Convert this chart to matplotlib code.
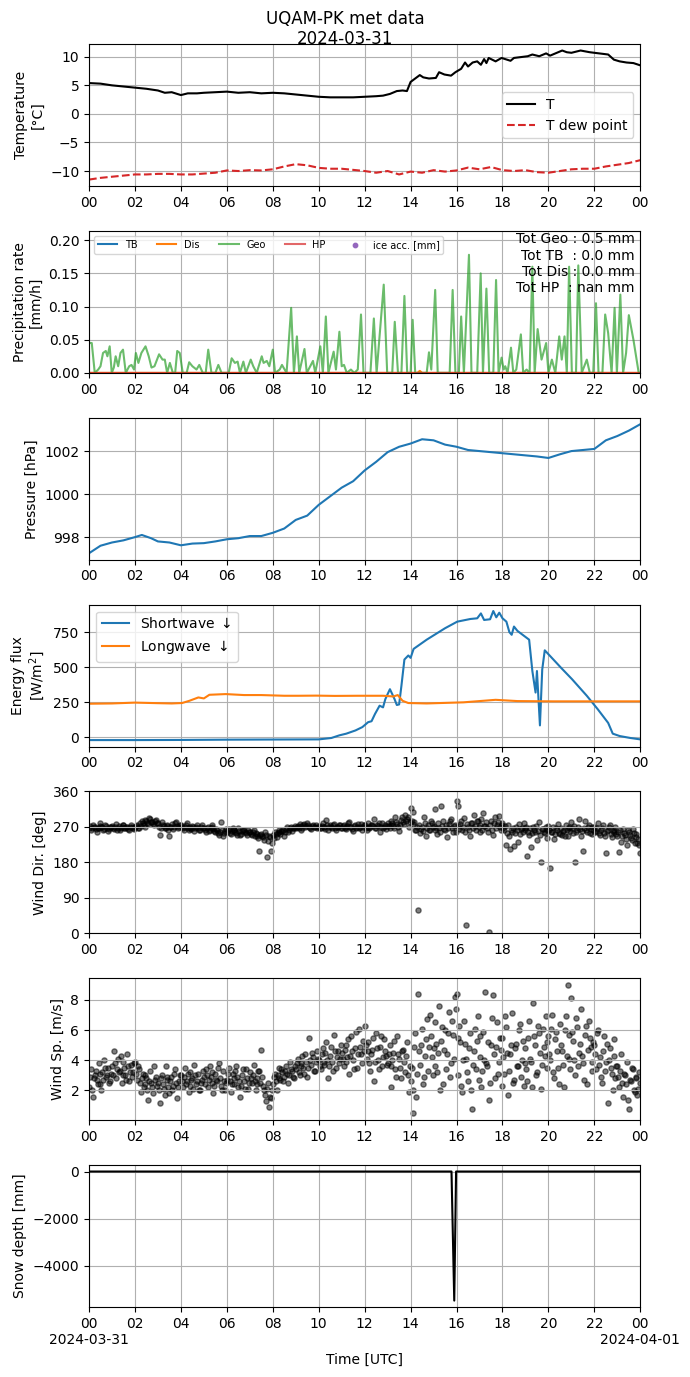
import matplotlib
matplotlib.use("Agg")
import numpy as np
import pandas as pd
import matplotlib.pyplot as plt
import matplotlib.dates as mdates
from matplotlib.ticker import FuncFormatter

# ---------------- data ----------------
DAY = "2024-03-31"
TITLE = "UQAM-PK met data\n2024-03-31"

t_hours = [0, 0.5, 1, 1.5, 2, 2.5, 3, 3.3, 3.6, 4, 4.3, 4.7, 5, 5.5, 6, 6.5, 7, 7.5, 8, 8.5,
           9, 9.5, 10, 10.5, 11, 11.5, 12, 12.5, 12.8, 13.1, 13.4, 13.65, 13.84, 14.0, 14.4,
           14.55, 14.8, 15.1, 15.24, 15.47, 15.76, 15.95, 16.2, 16.37, 16.5, 16.7, 16.9, 17.06,
           17.2, 17.3, 17.4, 17.7, 17.96, 18.35, 18.5, 19.1, 19.3, 19.6, 19.9, 20.07, 20.6,
           20.8, 21.0, 21.4, 21.8, 22.2, 22.6, 22.85, 23.1, 23.4, 23.7, 24]
t_vals = [5.4, 5.3, 5.0, 4.8, 4.6, 4.4, 4.1, 3.7, 3.8, 3.3, 3.6, 3.6, 3.7, 3.8, 3.9, 3.7, 3.8,
          3.6, 3.7, 3.6, 3.4, 3.2, 3.0, 2.9, 2.9, 2.9, 3.0, 3.1, 3.2, 3.5, 4.0, 4.1, 4.0, 5.6,
          6.8, 6.4, 6.2, 6.3, 7.3, 6.9, 6.7, 7.3, 7.9, 9.0, 8.3, 9.0, 9.2, 8.6, 9.6, 8.9, 9.8,
          9.2, 9.8, 9.3, 9.8, 10.1, 10.4, 10.1, 10.6, 10.2, 11.1, 10.8, 10.7, 11.1, 10.8, 10.6,
          10.4, 9.5, 9.2, 9.0, 8.9, 8.5]

td_hours = [0, 0.5, 1, 1.5, 2, 2.5, 3, 3.5, 4, 4.5, 5, 5.5, 6, 6.5, 7, 7.5, 8, 8.5, 9, 9.5,
            10, 10.5, 11, 11.5, 12, 12.5, 13, 13.5, 14, 14.5, 15, 15.5, 16, 16.5, 17, 17.5,
            18, 18.5, 19, 19.5, 20, 20.5, 21, 21.5, 22, 22.5, 23, 23.5, 24]
td_vals = [-11.5, -11.2, -11.0, -10.8, -10.6, -10.6, -10.5, -10.5, -10.6, -10.6, -10.45,
           -10.3, -9.9, -10.0, -9.85, -9.9, -9.7, -9.2, -8.8, -9.0, -9.45, -9.6, -9.6, -9.8,
           -10.0, -10.3, -10.0, -10.6, -10.1, -10.3, -9.85, -10.1, -9.9, -9.4, -9.7, -9.3,
           -9.85, -10.0, -9.85, -10.2, -10.3, -10.0, -9.7, -9.6, -9.6, -9.2, -8.9, -8.6, -8.1]

geo_hours = [0.0, 0.12, 0.25, 0.4, 0.5, 0.61, 0.73, 0.8, 0.9, 0.99, 1.08, 1.16, 1.27, 1.37,
             1.48, 1.6, 1.75, 1.85, 1.96, 2.04, 2.15, 2.28, 2.46, 2.6, 2.72, 2.85, 3.05, 3.2,
             3.3, 3.4, 3.52, 3.65, 3.75, 3.84, 3.95, 4.08, 4.25, 4.36, 4.5, 4.68, 4.8, 4.95,
             5.08, 5.19, 5.33, 5.5, 5.63, 5.77, 6.08, 6.21, 6.35, 6.47, 6.57, 6.72, 6.83, 7.04,
             7.15, 7.3, 7.52, 7.6, 7.74, 7.85, 8.0, 8.1, 8.3, 8.4, 8.6, 8.8, 8.92, 9.05, 9.15,
             9.38, 9.48, 9.75, 9.85, 10.07, 10.18, 10.31, 10.42, 10.65, 10.75, 10.9, 11.0, 11.1,
             11.22, 11.4, 11.55, 11.7, 11.84, 11.95, 12.25, 12.4, 12.52, 12.83, 12.98, 13.2,
             13.31, 13.45, 13.6, 13.73, 13.85, 14.0, 14.09, 14.2, 14.7, 14.8, 14.9, 15.07, 15.18,
             15.7, 15.83, 15.95, 16.1, 16.2, 16.32, 16.54, 16.65, 16.9, 17.05, 17.15, 17.3,
             17.42, 17.6, 17.72, 17.83, 17.96, 18.05, 18.12, 18.22, 18.37, 18.47, 18.6, 18.8,
             18.9, 19.05, 19.18, 19.3, 19.4, 19.53, 19.7, 19.9, 20.0, 20.15, 20.3, 20.47, 20.58,
             20.7, 20.8, 20.9, 21.02, 21.2, 21.3, 21.45, 21.67, 21.8, 21.95, 22.07, 22.18, 22.35,
             22.47, 22.6, 22.75, 22.88, 22.98, 23.13, 23.25, 23.38, 23.5, 23.7, 23.93, 24.0]
geo_vals = [0.045, 0.045, 0.0, 0.005, 0.01, 0.03, 0.033, 0.025, 0.04, 0.0, 0.008, 0.025, 0.01,
            0.03, 0.035, 0.0, 0.01, 0.012, 0.005, 0.03, 0.015, 0.03, 0.04, 0.025, 0.008, 0.01,
            0.028, 0.02, 0.02, 0.0, 0.015, 0.0, 0.0, 0.033, 0.03, 0.0, 0.0, 0.016, 0.01, 0.005,
            0.012, 0.0, 0.0, 0.035, 0.0, 0.0, 0.012, 0.0, 0.0, 0.022, 0.015, 0.017, 0.0, 0.017,
            0.0, 0.02, 0.01, 0.0, 0.025, 0.015, 0.018, 0.01, 0.035, 0.0, 0.005, 0.012, 0.0,
            0.098, 0.0, 0.055, 0.0, 0.036, 0.0, 0.018, 0.0, 0.04, 0.0, 0.085, 0.0, 0.032, 0.005,
            0.062, 0.01, 0.012, 0.0, 0.005, 0.0, 0.005, 0.088, 0.0, 0.0, 0.082, 0.0, 0.133, 0.0,
            0.0, 0.077, 0.0, 0.0, 0.116, 0.0, 0.0, 0.08, 0.0, 0.0, 0.031, 0.005, 0.125, 0.0, 0.0,
            0.125, 0.0, 0.0, 0.085, 0.0, 0.178, 0.0, 0.0, 0.15, 0.0, 0.127, 0.0, 0.0, 0.14, 0.0,
            0.023, 0.005, 0.01, 0.0, 0.038, 0.0, 0.005, 0.058, 0.0, 0.005, 0.0, 0.16, 0.0, 0.066,
            0.02, 0.045, 0.0, 0.02, 0.0, 0.055, 0.02, 0.055, 0.0, 0.16, 0.0, 0.0, 0.162, 0.0,
            0.02, 0.0, 0.0, 0.105, 0.0, 0.0, 0.088, 0.06, 0.0, 0.098, 0.0, 0.118, 0.0, 0.03,
            0.087, 0.05, 0.0, 0.0]
tb_hours = [0, 24]
tb_vals = [0.0, 0.0]
dis_hours = [0, 14.3, 14.4, 14.5, 24]
dis_vals = [0.0, 0.0, 0.003, 0.0, 0.0]
hp_hours = [0, 24]
hp_vals = [0.0, 0.0]
totals_text = "Tot Geo : 0.5 mm\nTot TB  : 0.0 mm\nTot Dis : 0.0 mm\nTot HP  : nan mm"

p_hours = [0, 0.5, 1, 1.5, 2, 2.3, 2.7, 3, 3.5, 4, 4.5, 5, 5.5, 6, 6.5, 7, 7.5, 8, 8.5, 9,
           9.5, 10, 10.5, 11, 11.5, 12, 12.5, 13, 13.5, 14, 14.5, 15, 15.5, 16, 16.5, 17, 17.5,
           18, 18.5, 19, 19.5, 20, 20.5, 21, 21.5, 22, 22.5, 23, 23.5, 24]
p_vals = [997.25, 997.6, 997.75, 997.85, 998.0, 998.1, 997.95, 997.8, 997.75, 997.62, 997.7,
          997.72, 997.8, 997.9, 997.95, 998.05, 998.05, 998.2, 998.4, 998.8, 999.0, 999.5,
          999.9, 1000.3, 1000.6, 1001.1, 1001.5, 1001.95, 1002.2, 1002.35, 1002.55, 1002.5,
          1002.3, 1002.2, 1002.05, 1002.0, 1001.95, 1001.9, 1001.85, 1001.8, 1001.75, 1001.68,
          1001.85, 1002.0, 1002.05, 1002.1, 1002.5, 1002.7, 1002.95, 1003.25]

sw_hours = [0, 2, 4, 6, 8, 10, 10.55, 10.9, 11.2, 11.6, 11.9, 12.15, 12.3, 12.45, 12.65, 12.8,
            12.9, 13.0, 13.1, 13.2, 13.3, 13.4, 13.5, 13.6, 13.73, 13.9, 14.0, 14.13, 14.7,
            15.5, 16.03, 16.6, 16.9, 17.06, 17.2, 17.46, 17.6, 17.73, 17.86, 18.0, 18.17, 18.3,
            18.4, 18.5, 18.65, 19.16, 19.3, 19.44, 19.5, 19.63, 19.73, 19.84, 20.08, 20.55,
            21.03, 21.67, 22.14, 22.6, 22.8, 23.1, 23.57, 24]
sw_vals = [-22, -22, -21, -19, -18, -17, -7, 12, 24, 47, 71, 106, 113, 165, 224, 212, 271, 307,
           342, 307, 271, 229, 233, 366, 554, 583, 566, 630, 696, 778, 825, 844, 849, 884, 837,
           842, 901, 856, 889, 849, 825, 750, 731, 790, 759, 696, 472, 318, 472, 83, 483, 620,
           578, 495, 413, 295, 200, 101, 24, 7, -7, -17]
lw_hours = [0, 1, 2, 3, 3.6, 4.05, 4.37, 4.76, 5.0, 5.24, 5.95, 6.75, 7.5, 8.5, 9.1, 9.9,
            10.7, 11.7, 12.8, 13.25, 13.44, 13.65, 13.9, 14.7, 16.3, 17.7, 18.65, 20.2, 24]
lw_vals = [238, 240, 246, 242, 240, 243, 259, 283, 276, 302, 307, 300, 300, 295, 295, 296, 294,
           295, 295, 290, 300, 259, 243, 240, 248, 266, 257, 255, 255]

# wind direction [deg], one row per hour (evenly spaced within the hour), plus 00 UTC next day
wd_rows = [
    [268, 272, 262, 266, 275, 270, 271, 264, 258, 268, 266, 273, 279, 270, 270, 262, 264, 274, 273, 268, 260, 265, 269, 271],
    [272, 268, 265, 270, 277, 263, 268, 272, 263, 267, 271, 275, 276, 268, 266, 271, 270, 264, 261, 269, 274, 270, 268, 265],
    [270, 273, 276, 268, 266, 279, 273, 284, 281, 276, 269, 288, 285, 280, 278, 292, 290, 283, 282, 277, 275, 286, 287, 279],
    [279, 271, 250, 268, 283, 275, 272, 266, 268, 273, 276, 262, 248, 270, 271, 278, 265, 269, 279, 283, 273, 266, 270, 275],
    [274, 270, 266, 262, 270, 276, 281, 268, 263, 271, 268, 265, 273, 270, 259, 266, 271, 275, 267, 261, 262, 269, 275, 268],
    [268, 263, 257, 266, 271, 260, 263, 268, 276, 270, 265, 259, 258, 264, 262, 255, 250, 258, 282, 262, 246, 255, 260, 264],
    [258, 262, 264, 255, 252, 259, 268, 262, 261, 256, 255, 250, 266, 260, 250, 253, 259, 262, 263, 257, 254, 249, 262, 258],
    [257, 252, 250, 256, 262, 248, 255, 251, 247, 242, 210, 250, 252, 246, 244, 238, 256, 250, 193, 235, 248, 244, 208, 228],
    [250, 243, 258, 252, 245, 255, 262, 257, 253, 260, 259, 262, 248, 256, 264, 270, 256, 262, 266, 271, 260, 266, 268, 272],
    [266, 270, 272, 268, 277, 273, 263, 266, 274, 277, 269, 272, 281, 275, 271, 266, 265, 272, 276, 269, 270, 274, 267, 271],
    [272, 268, 266, 273, 279, 270, 270, 264, 288, 276, 262, 269, 274, 271, 268, 276, 277, 266, 263, 270, 271, 274, 275, 267],
    [268, 273, 276, 266, 264, 270, 273, 279, 282, 270, 269, 264, 260, 272, 275, 268, 271, 277, 266, 270, 278, 263, 270, 274],
    [274, 268, 262, 271, 281, 266, 269, 276, 276, 272, 290, 268, 266, 274, 273, 280, 258, 270, 279, 267, 271, 276, 265, 272],
    [280, 272, 268, 276, 285, 279, 273, 268, 294, 282, 277, 271, 260, 275, 288, 296, 282, 278, 300, 285, 290, 295, 270, 283],
    [318, 285, 307, 277, 283, 262, 262, 270, 60, 276, 255, 265, 270, 259, 296, 281, 248, 268, 275, 262, 261, 284, 280, 270],
    [272, 262, 316, 268, 251, 280, 268, 258, 323, 272, 285, 265, 262, 276, 245, 268, 277, 285, 290, 266, 258, 272, 274, 256],
    [335, 272, 322, 265, 278, 284, 262, 270, 292, 258, 21, 278, 270, 262, 248, 280, 280, 266, 300, 272, 262, 285, 285, 270],
    [258, 276, 290, 262, 305, 272, 272, 283, 266, 258, 3, 275, 284, 262, 250, 279, 296, 268, 275, 282, 298, 270, 263, 275],
    [280, 268, 262, 272, 225, 255, 275, 248, 215, 262, 258, 268, 222, 255, 270, 262, 232, 278, 252, 265, 268, 258, 281, 266],
    [262, 270, 195, 258, 250, 268, 220, 255, 270, 262, 258, 272, 238, 260, 282, 250, 182, 265, 265, 258, 255, 270, 243, 262],
    [272, 262, 165, 258, 258, 270, 240, 252, 268, 263, 278, 255, 252, 266, 250, 260, 262, 248, 275, 263, 246, 270, 268, 259],
    [282, 266, 255, 273, 180, 258, 262, 270, 290, 264, 248, 259, 209, 268, 285, 262, 258, 271, 276, 255, 265, 270, 253, 262],
    [270, 258, 260, 266, 279, 255, 250, 262, 268, 274, 255, 248, 203, 260, 262, 271, 275, 252, 245, 260, 262, 256, 270, 251],
    [248, 258, 207, 262, 232, 248, 265, 255, 250, 240, 225, 262, 258, 250, 242, 236, 264, 255, 228, 244, 252, 230, 240, 225],
    [205],
]

# wind speed [m/s], one row per hour
ws_rows = [
    [2.2, 2.9, 3.4, 2.0, 1.6, 2.8, 3.0, 3.3, 2.7, 2.4, 3.8, 3.1, 2.4, 2.0, 3.2, 2.7, 4.0, 3.5, 2.9, 3.0, 3.5, 2.5, 2.6, 3.1],
    [3.6, 3.0, 4.6, 3.8, 2.8, 3.4, 4.1, 3.2, 3.3, 4.3, 2.5, 3.0, 3.9, 3.5, 3.0, 2.7, 4.4, 3.6, 2.6, 3.2, 3.7, 2.9, 3.2, 3.8],
    [3.9, 3.1, 2.7, 3.6, 3.4, 2.5, 1.9, 2.8, 3.1, 2.2, 2.4, 3.0, 2.8, 2.0, 1.4, 2.6, 3.3, 2.5, 2.2, 1.8, 3.6, 2.7, 2.9, 2.3],
    [2.5, 2.0, 1.2, 2.8, 3.0, 2.4, 2.1, 1.7, 3.6, 2.9, 2.7, 2.2, 1.8, 2.6, 2.9, 2.0, 2.3, 3.1, 3.4, 2.5, 1.5, 2.2, 2.6, 3.0],
    [3.0, 2.6, 2.2, 2.9, 3.5, 2.4, 2.6, 3.1, 1.9, 2.3, 3.2, 2.7, 2.8, 2.1, 3.7, 3.0, 2.4, 2.6, 3.1, 2.0, 2.0, 2.5, 2.7, 3.3],
    [2.9, 2.4, 3.4, 3.0, 2.2, 2.7, 3.6, 2.9, 2.5, 3.2, 1.8, 2.3, 3.1, 2.7, 2.6, 3.5, 3.8, 2.8, 2.3, 2.0, 3.3, 2.6, 2.0, 2.5],
    [2.7, 3.1, 3.5, 2.6, 1.9, 2.4, 3.1, 2.8, 2.4, 3.3, 3.6, 2.9, 2.2, 2.6, 1.6, 2.3, 3.0, 3.4, 2.6, 2.1, 3.4, 2.8, 2.1, 2.5],
    [3.2, 2.8, 2.5, 3.0, 3.7, 2.6, 2.0, 2.4, 2.8, 3.3, 3.3, 2.5, 4.7, 2.9, 2.3, 2.0, 1.7, 1.3, 2.1, 2.5, 0.9, 1.6, 1.5, 2.0],
    [2.4, 2.9, 3.1, 2.6, 2.0, 3.0, 3.5, 2.8, 2.7, 3.4, 3.2, 2.6, 2.9, 3.3, 3.6, 3.1, 2.5, 3.0, 3.9, 3.4, 3.3, 2.9, 2.8, 3.6],
    [3.4, 3.8, 4.1, 3.2, 3.0, 3.6, 3.8, 4.3, 3.5, 3.1, 4.4, 3.9, 2.9, 3.5, 5.5, 4.0, 3.7, 4.5, 4.2, 3.3, 3.3, 3.9, 4.6, 4.1],
    [4.0, 3.6, 3.4, 4.4, 4.8, 3.9, 3.7, 4.5, 5.2, 4.0, 2.8, 3.6, 4.3, 4.9, 3.9, 3.3, 5.7, 4.6, 3.5, 4.2, 4.6, 3.8, 4.1, 5.0],
    [4.5, 4.1, 3.6, 4.7, 5.0, 3.9, 4.2, 5.4, 3.1, 4.3, 5.6, 4.6, 4.0, 3.4, 4.8, 5.9, 3.5, 4.4, 6.1, 4.9, 4.4, 3.8, 5.3, 4.6],
    [6.3, 5.0, 4.1, 4.6, 5.2, 3.8, 3.3, 4.4, 4.7, 5.5, 2.6, 3.9, 5.8, 4.8, 4.0, 3.4, 4.9, 5.6, 3.6, 4.2, 5.4, 4.6, 4.3, 3.7],
    [3.8, 4.4, 5.0, 3.6, 2.2, 4.0, 4.5, 5.3, 3.4, 2.9, 5.6, 4.4, 4.1, 3.5, 2.8, 4.6, 4.7, 3.9, 3.2, 4.3, 5.2, 3.0, 1.9, 3.6],
    [2.6, 3.5, 0.5, 2.0, 4.9, 5.8, 1.6, 3.1, 8.4, 4.6, 3.7, 5.0, 6.1, 2.4, 2.9, 4.3, 5.4, 6.7, 3.3, 4.9, 7.0, 5.6, 4.2, 3.0],
    [4.8, 3.6, 6.5, 5.1, 3.2, 4.5, 7.6, 2.0, 5.3, 6.2, 2.4, 4.7, 6.0, 3.4, 4.4, 5.8, 7.2, 2.9, 3.8, 6.6, 5.7, 4.1, 8.2, 7.4],
    [8.4, 5.5, 3.0, 6.3, 5.2, 2.3, 1.9, 4.0, 6.6, 5.1, 4.1, 3.2, 2.6, 4.8, 5.8, 2.0, 0.8, 3.7, 4.6, 6.1, 3.4, 5.3, 6.9, 2.7],
    [4.2, 5.6, 2.2, 3.3, 5.9, 4.0, 8.5, 3.8, 3.6, 5.2, 1.4, 2.5, 5.0, 6.8, 8.3, 4.4, 2.8, 4.9, 6.5, 3.1, 3.9, 5.5, 4.7, 2.3],
    [5.5, 4.2, 3.1, 6.9, 6.2, 4.5, 1.7, 3.3, 4.4, 5.0, 7.1, 2.5, 2.7, 4.8, 5.1, 3.6, 3.6, 6.0, 6.4, 2.9, 4.0, 5.3, 2.3, 3.8],
    [4.8, 3.4, 2.6, 5.5, 6.6, 4.1, 3.9, 2.2, 7.8, 5.6, 5.0, 3.0, 3.2, 6.3, 5.8, 4.5, 2.1, 3.7, 6.1, 4.9, 4.3, 6.9, 3.5, 5.2],
    [5.6, 4.4, 4.0, 6.1, 7.0, 3.2, 2.8, 5.4, 5.9, 4.6, 3.5, 2.4, 6.4, 5.0, 4.6, 3.7, 2.2, 6.0, 6.9, 4.3, 9.0, 5.7, 4.1, 3.4],
    [8.1, 5.9, 5.3, 4.0, 3.0, 6.8, 6.2, 3.6, 4.5, 5.1, 7.4, 4.3, 3.8, 2.7, 5.7, 6.3, 2.4, 4.7, 6.6, 5.5, 4.9, 3.9, 3.3, 5.2],
    [5.0, 4.4, 3.4, 5.8, 6.0, 3.7, 4.2, 2.9, 2.5, 4.6, 5.6, 3.3, 3.9, 5.1, 1.2, 4.0, 4.8, 3.5, 3.1, 2.0, 5.4, 4.3, 2.8, 3.6],
    [3.6, 2.9, 2.2, 3.3, 4.4, 2.5, 1.6, 3.1, 3.0, 2.4, 3.9, 1.4, 0.8, 2.7, 2.6, 3.5, 3.4, 2.0, 1.9, 2.8, 2.9, 1.7, 2.1, 3.2],
    [2.5],
]

snow_hours = [0, 15.78, 15.9, 15.98, 24]
snow_vals = [0, 0, -5490, 0, 0]


def to_dt(hours):
    return pd.Timestamp(DAY) + pd.to_timedelta(np.asarray(hours, dtype=float), unit="h")


def rows_to_series(rows):
    hrs, vals = [], []
    for h, row in enumerate(rows):
        for j, v in enumerate(row):
            hrs.append(h + j / len(row))
            vals.append(v)
    return to_dt(hrs), vals


# ---------------- figure ----------------
fig, axes = plt.subplots(7, 1, figsize=(6.9, 13.77), dpi=100)
fig.subplots_adjust(left=0.129, right=0.928, top=0.968, bottom=0.0508, hspace=0.316)
ax1, ax2, ax3, ax4, ax5, ax6, ax7 = axes

fig.text(0.5, 0.9931, TITLE, ha="center", va="top", fontsize=12)

# Temperature
ax1.plot(to_dt(t_hours), t_vals, color="k", lw=1.5, label="T")
ax1.plot(to_dt(td_hours), td_vals, color="tab:red", ls="--", lw=1.5, label="T dew point")
ax1.set_ylabel("Temperature\n[°C]")
ax1.legend(loc="center right")

# Precipitation
ax2.plot(to_dt(tb_hours), tb_vals, color="tab:blue", label="TB")
ax2.plot(to_dt(dis_hours), dis_vals, color="tab:orange", label="Dis")
ax2.plot(to_dt(geo_hours), geo_vals, color="tab:green", alpha=0.7, label="Geo")
ax2.plot(to_dt(hp_hours), hp_vals, color="tab:red", alpha=0.7, label="HP")
ax2.scatter([], [], color="tab:purple", s=10, label="ice acc. [mm]")
ax2.set_ylim(0, 0.214)
ax2.set_ylabel("Precipitation rate\n[mm/h]")
ax2.legend(loc="upper left", ncol=5, fontsize=7)
ax2.text(0.99, 0.99, totals_text, transform=ax2.transAxes, ha="right", va="top",
         multialignment="right", fontsize=10)

# Pressure
ax3.plot(to_dt(p_hours), p_vals, color="tab:blue")
ax3.set_ylabel("Pressure [hPa]")

# Radiation
ax4.plot(to_dt(sw_hours), sw_vals, color="tab:blue", label="Shortwave $\\downarrow$")
ax4.plot(to_dt(lw_hours), lw_vals, color="tab:orange", label="Longwave $\\downarrow$")
ax4.set_ylabel("Energy flux\n[W/m$^2$]")
ax4.legend(loc="upper left")

# Wind direction
wd_t, wd_v = rows_to_series(wd_rows)
ax5.scatter(wd_t, wd_v, color="k", alpha=0.5, s=14)
ax5.set_ylim(0, 360)
ax5.set_yticks([0, 90, 180, 270, 360])
ax5.set_ylabel("Wind Dir. [deg]")

# Wind speed
ws_t, ws_v = rows_to_series(ws_rows)
ax6.scatter(ws_t, ws_v, color="k", alpha=0.5, s=14)
ax6.set_ylim(0.03, 9.43)
ax6.set_ylabel("Wind Sp. [m/s]")

# Snow depth
ax7.plot(to_dt(snow_hours), snow_vals, color="k", lw=1.5)
ax7.set_ylabel("Snow depth [mm]")
ax7.set_xlabel("Time [UTC]")

start, end = to_dt([0, 24])
for ax in axes:
    ax.set_xlim(start, end)
    ax.xaxis.set_major_locator(mdates.HourLocator(byhour=range(0, 24, 2)))
    ax.xaxis.set_major_formatter(mdates.DateFormatter("%H"))
    ax.grid(True)


def bottom_fmt(x, pos):
    d = mdates.num2date(x)
    s = d.strftime("%H")
    if d.hour == 0 and d.minute == 0:
        s += "\n" + d.strftime("%Y-%m-%d")
    return s


ax7.xaxis.set_major_formatter(FuncFormatter(bottom_fmt))

fig.savefig("out.png", dpi=100)
